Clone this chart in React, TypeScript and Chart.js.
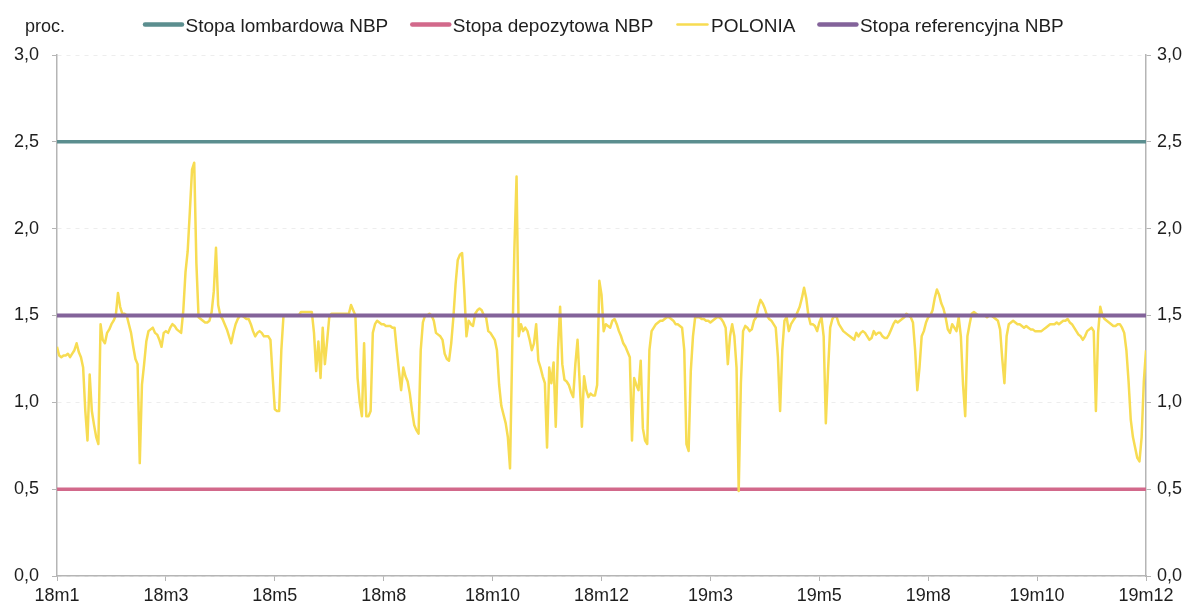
import React, { useEffect, useRef } from 'react';
import { Chart, registerables } from 'chart.js';

Chart.register(...registerables);

// ---- data ----
const xTickLabels = ['18m1', '18m3', '18m5', '18m8', '18m10', '18m12', '19m3', '19m5', '19m8', '19m10', '19m12'];
const yTickLabels = ['0,0', '0,5', '1,0', '1,5', '2,0', '2,5', '3,0'];
const daysPerTick = 50;

const rateDays = [0, 500];
const stopaLombardowa = [2.5, 2.5];
const stopaDepozytowa = [0.5, 0.5];
const stopaReferencyjna = [1.5, 1.5];

const polonia = [
  1.32, 1.27, 1.26, 1.27, 1.27, 1.28, 1.26, 1.28, 1.30, 1.34,
  1.29, 1.26, 1.20, 0.95, 0.78, 1.16, 0.95, 0.87, 0.80, 0.76,
  1.45, 1.36, 1.34, 1.40, 1.42, 1.45, 1.47, 1.50, 1.63, 1.55,
  1.51, 1.51, 1.50, 1.45, 1.40, 1.32, 1.25, 1.22, 0.65, 1.10,
  1.22, 1.35, 1.41, 1.42, 1.43, 1.40, 1.39, 1.36, 1.32, 1.40,
  1.41, 1.40, 1.43, 1.45, 1.44, 1.42, 1.41, 1.40, 1.53, 1.75,
  1.87, 2.10, 2.34, 2.38, 1.80, 1.49, 1.48, 1.47, 1.46, 1.46,
  1.47, 1.52, 1.64, 1.89, 1.56, 1.50, 1.48, 1.45, 1.42, 1.38,
  1.34, 1.40, 1.45, 1.48, 1.50, 1.50, 1.49, 1.48, 1.48, 1.45,
  1.41, 1.38, 1.40, 1.41, 1.40, 1.38, 1.38, 1.38, 1.36, 1.15,
  0.96, 0.95, 0.95, 1.30, 1.50, 1.50, 1.50, 1.50, 1.50, 1.50,
  1.50, 1.50, 1.52, 1.52, 1.52, 1.52, 1.52, 1.52, 1.40, 1.18,
  1.35, 1.14, 1.43, 1.22, 1.35, 1.49, 1.51, 1.51, 1.51, 1.51,
  1.51, 1.51, 1.51, 1.51, 1.51, 1.56, 1.53, 1.50, 1.14, 1.00,
  0.92, 1.34, 0.92, 0.92, 0.95, 1.40, 1.45, 1.47, 1.46, 1.45,
  1.45, 1.44, 1.44, 1.44, 1.43, 1.43, 1.30, 1.18, 1.07, 1.20,
  1.15, 1.12, 1.05, 0.95, 0.87, 0.84, 0.82, 1.30, 1.46, 1.50,
  1.50, 1.51, 1.50, 1.47, 1.40, 1.39, 1.38, 1.36, 1.28, 1.25,
  1.24, 1.34, 1.49, 1.68, 1.82, 1.85, 1.86, 1.64, 1.38, 1.47,
  1.45, 1.44, 1.51, 1.53, 1.54, 1.53, 1.50, 1.49, 1.41, 1.40,
  1.38, 1.36, 1.30, 1.10, 0.98, 0.93, 0.88, 0.80, 0.62, 1.30,
  1.88, 2.30, 1.38, 1.45, 1.41, 1.43, 1.41, 1.36, 1.30, 1.34,
  1.45, 1.24, 1.20, 1.15, 1.11, 0.74, 1.20, 1.11, 1.23, 0.86,
  1.30, 1.55, 1.22, 1.13, 1.12, 1.10, 1.06, 1.03, 1.22, 1.36,
  1.11, 0.86, 1.15, 1.07, 1.03, 1.05, 1.04, 1.04, 1.10, 1.70,
  1.62, 1.41, 1.45, 1.44, 1.43, 1.47, 1.48, 1.45, 1.41, 1.38,
  1.34, 1.32, 1.29, 1.26, 0.78, 1.14, 1.10, 1.07, 1.24, 0.85,
  0.78, 0.76, 1.30, 1.41, 1.43, 1.45, 1.46, 1.47, 1.47, 1.48,
  1.49, 1.49, 1.48, 1.47, 1.45, 1.45, 1.44, 1.43, 1.30, 0.76,
  0.72, 1.18, 1.38, 1.49, 1.49, 1.49, 1.48, 1.48, 1.47, 1.47,
  1.46, 1.47, 1.48, 1.49, 1.49, 1.48, 1.46, 1.43, 1.22, 1.38,
  1.45, 1.38, 1.20, 0.49, 1.11, 1.41, 1.44, 1.43, 1.41, 1.42,
  1.47, 1.49, 1.55, 1.59, 1.57, 1.54, 1.50, 1.48, 1.47, 1.45,
  1.43, 1.26, 0.95, 1.30, 1.47, 1.49, 1.41, 1.45, 1.47, 1.49,
  1.52, 1.55, 1.60, 1.66, 1.60, 1.50, 1.45, 1.45, 1.44, 1.41,
  1.46, 1.49, 1.38, 0.88, 1.18, 1.43, 1.48, 1.50, 1.49, 1.45,
  1.43, 1.41, 1.40, 1.39, 1.38, 1.37, 1.36, 1.40, 1.38, 1.40,
  1.41, 1.40, 1.38, 1.36, 1.37, 1.41, 1.39, 1.40, 1.40, 1.38,
  1.37, 1.37, 1.39, 1.42, 1.45, 1.47, 1.46, 1.47, 1.48, 1.49,
  1.51, 1.50, 1.49, 1.46, 1.30, 1.07, 1.20, 1.38, 1.41, 1.46,
  1.49, 1.50, 1.53, 1.60, 1.65, 1.62, 1.57, 1.54, 1.49, 1.42,
  1.40, 1.45, 1.43, 1.41, 1.49, 1.38, 1.10, 0.92, 1.38, 1.45,
  1.51, 1.52, 1.51, 1.50, 1.50, 1.50, 1.50, 1.49, 1.50, 1.50,
  1.49, 1.48, 1.47, 1.42, 1.25, 1.11, 1.38, 1.45, 1.46, 1.47,
  1.46, 1.45, 1.45, 1.44, 1.43, 1.44, 1.43, 1.42, 1.42, 1.41,
  1.41, 1.41, 1.41, 1.42, 1.43, 1.44, 1.45, 1.45, 1.45, 1.46,
  1.45, 1.46, 1.47, 1.47, 1.48, 1.46, 1.45, 1.43, 1.41, 1.39,
  1.38, 1.36, 1.38, 1.41, 1.42, 1.43, 1.41, 0.95, 1.40, 1.55,
  1.50, 1.48, 1.47, 1.46, 1.45, 1.44, 1.44, 1.45, 1.45, 1.43,
  1.40, 1.30, 1.12, 0.90, 0.80, 0.74, 0.68, 0.66, 0.80, 1.12,
  1.30,
];

// ---- style ----
const FONT = 'Arial, "Liberation Sans", Helvetica, sans-serif';
const AXIS = '#b5b5b5';
const TEXT = '#1e1e1e';
const TEAL = '#5b8e8f';
const PINK = '#d2698b';
const YELLOW = '#f7dc52';
const PURPLE = '#83639a';

const legendPlugin = {
  id: 'customLegend',
  afterDraw(chart: any) {
    const ctx = chart.ctx as CanvasRenderingContext2D;
    const lineY = 24.5;
    const baseY = 32;
    ctx.save();
    ctx.textBaseline = 'alphabetic';
    ctx.textAlign = 'left';
    ctx.fillStyle = TEXT;
    ctx.font = `18px ${FONT}`;
    ctx.fillText('proc.', 25, baseY);
    ctx.font = `19px ${FONT}`;
    let x = 143;
    chart.data.datasets.forEach((ds: any) => {
      const thin = ds.borderWidth < 3;
      const len = thin ? 34 : 41;
      ctx.strokeStyle = ds.borderColor;
      ctx.lineWidth = thin ? 2.5 : 4.5;
      ctx.lineCap = 'round';
      ctx.beginPath();
      ctx.moveTo(x + 2, lineY);
      ctx.lineTo(x + len - 2, lineY);
      ctx.stroke();
      x += len + 1.5;
      ctx.fillText(ds.label, x, baseY);
      x += ctx.measureText(ds.label).width + 22;
    });
    ctx.restore();
  },
};

export default function App() {
  const canvasRef = useRef<HTMLCanvasElement | null>(null);

  useEffect(() => {
    const canvas = canvasRef.current;
    if (!canvas) return;
    const lastDay = polonia.length - 1;
    const ratePoints = (vals: number[]) => rateDays.map((d, k) => ({ x: d, y: vals[k] }));
    const tickFont = { family: FONT, size: 18 };

    const chart = new Chart(canvas, {
      type: 'line',
      data: {
        datasets: [
          {
            label: 'Stopa lombardowa NBP',
            data: ratePoints(stopaLombardowa),
            borderColor: TEAL,
            backgroundColor: TEAL,
            borderWidth: 3.5,
            pointRadius: 0,
            order: 2,
          },
          {
            label: 'Stopa depozytowa NBP',
            data: ratePoints(stopaDepozytowa),
            borderColor: PINK,
            backgroundColor: PINK,
            borderWidth: 3.5,
            pointRadius: 0,
            order: 2,
          },
          {
            label: 'POLONIA',
            data: polonia.map((v, i) => ({ x: i, y: v })),
            borderColor: YELLOW,
            backgroundColor: YELLOW,
            borderWidth: 2.5,
            borderJoinStyle: 'round',
            pointRadius: 0,
            tension: 0,
            order: 1,
          },
          {
            label: 'Stopa referencyjna NBP',
            data: ratePoints(stopaReferencyjna),
            borderColor: PURPLE,
            backgroundColor: PURPLE,
            borderWidth: 4,
            pointRadius: 0,
            order: 0,
          },
        ],
      },
      options: {
        responsive: false,
        animation: false,
        devicePixelRatio: 1,
        layout: { padding: { top: 55, left: 0, right: 0, bottom: 0 } },
        plugins: {
          legend: { display: false },
          tooltip: { enabled: false },
          title: { display: false },
        },
        scales: {
          x: {
            type: 'linear',
            min: 0,
            max: lastDay,
            grid: {
              display: true,
              drawOnChartArea: false,
              drawTicks: true,
              tickLength: 5,
              tickColor: AXIS,
              color: AXIS,
            },
            border: { display: true, color: AXIS, width: 1.5 },
            ticks: {
              stepSize: daysPerTick,
              autoSkip: false,
              maxRotation: 0,
              minRotation: 0,
              padding: 4,
              color: TEXT,
              font: tickFont,
              callback: (_v: any, index: number) => xTickLabels[index],
            },
            afterFit: (scale: any) => {
              scale.height = 30;
            },
          },
          y: {
            type: 'linear',
            position: 'left',
            min: 0,
            max: 3,
            grid: {
              display: true,
              drawOnChartArea: true,
              color: 'rgba(0,0,0,0.07)',
              lineWidth: 1,
              tickLength: 5,
              tickColor: AXIS,
            },
            border: { display: true, color: AXIS, width: 1.5, dash: [4, 5] },
            ticks: {
              stepSize: 0.5,
              padding: 13,
              color: TEXT,
              font: tickFont,
              callback: (_v: any, index: number) => yTickLabels[index],
            },
            afterFit: (scale: any) => {
              scale.width = 57;
            },
          },
          y2: {
            type: 'linear',
            position: 'right',
            min: 0,
            max: 3,
            grid: {
              display: true,
              drawOnChartArea: false,
              tickLength: 5,
              tickColor: AXIS,
              color: AXIS,
            },
            border: { display: true, color: AXIS, width: 1.5 },
            ticks: {
              stepSize: 0.5,
              padding: 6,
              color: TEXT,
              font: tickFont,
              callback: (_v: any, index: number) => yTickLabels[index],
            },
            afterFit: (scale: any) => {
              scale.width = 49;
            },
          },
        },
      },
      plugins: [legendPlugin],
    } as any);

    return () => {
      chart.destroy();
    };
  }, []);

  return (
    <div style={{ position: 'fixed', left: 0, top: 0, width: 1195, height: 606, background: '#ffffff' }}>
      <canvas ref={canvasRef} width={1195} height={606} style={{ display: 'block' }} />
    </div>
  );
}
